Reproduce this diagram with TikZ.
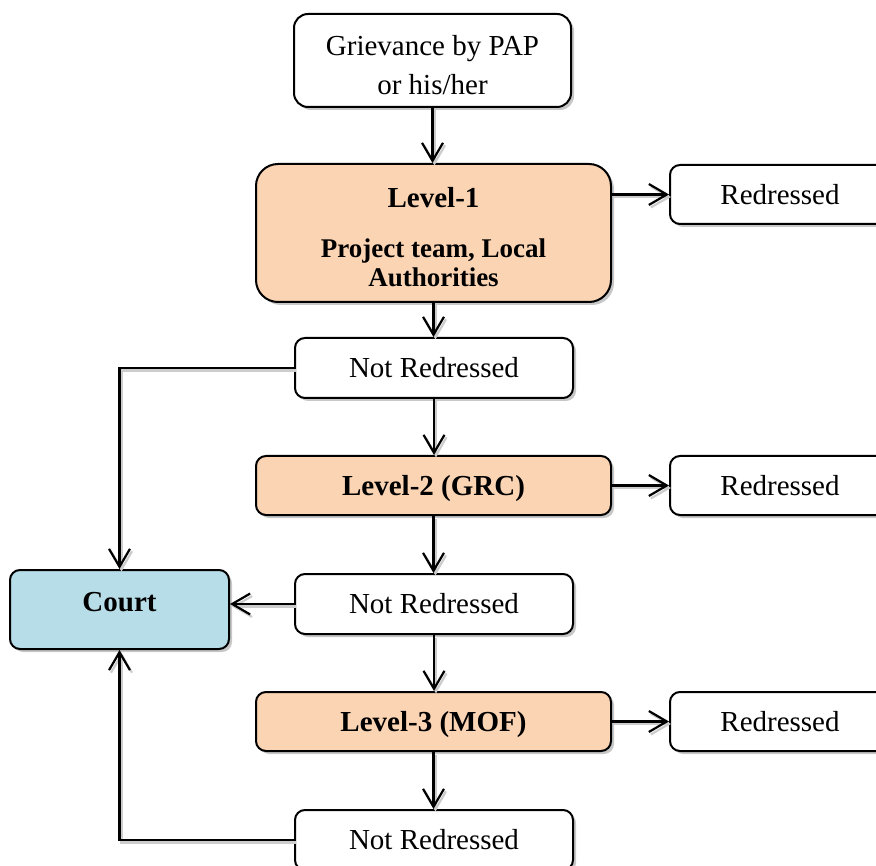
\documentclass[tikz,border=0pt]{standalone}
\usepackage{fontspec}
\setmainfont{Liberation Serif}
\usetikzlibrary{arrows.meta,shadows}
\definecolor{peach}{RGB}{251,212,180}
\definecolor{courtblue}{RGB}{183,221,232}
\tikzset{
  box/.style={draw=black, line width=2pt, rounded corners=10pt, fill=white, inner sep=0pt,
    align=center, font=\fontsize{29}{39}\selectfont,
    drop shadow={shadow xshift=3pt, shadow yshift=-3pt, opacity=1, fill=black!22}},
  lvl/.style={box, fill=peach, font=\fontsize{29}{39}\selectfont\bfseries},
  conn/.style={line width=2.4pt, -{Straight Barb[length=18pt,width=21pt,line width=2.2pt]},
    preaction={draw=black!20, line width=2.4pt, transform canvas={shift={(2pt,-2.5pt)}}}},
}
\begin{document}
\begin{tikzpicture}[x=1pt,y=-1pt]
\useasboundingbox (0,0) rectangle (876,866);
\clip (0,0) rectangle (876,866);
\node[box, rounded corners=14pt, minimum width=277pt, minimum height=93pt] (griev) at (432.5,60.5) {\rule{0pt}{29pt}Grievance by PAP\\or his/her};
\node[lvl, rounded corners=22pt, minimum width=355pt, minimum height=138pt] (l1) at (433.5,233)
  {\rule{0pt}{28pt}Level-1\\[11pt]\fontsize{27}{30}\selectfont Project team, Local\\[-10pt]\fontsize{27}{30}\selectfont Authorities};
\node[box, minimum width=220pt, minimum height=59pt] (r1) at (780,194.5) {Redressed};
\node[box, minimum width=278pt, minimum height=60pt] (nr1) at (434,368) {Not Redressed};
\node[lvl, text depth=0pt, minimum width=355pt, minimum height=59pt] (l2) at (433.5,485.5) {Level-2 (GRC)};
\node[box, minimum width=220pt, minimum height=59pt] (r2) at (780,485.5) {Redressed};
\node[box, fill=courtblue, font=\fontsize{29}{39}\selectfont\bfseries, text height=20pt, text depth=17pt, minimum width=219pt, minimum height=79pt] (court) at (119.5,609.5) {Court};
\node[box, minimum width=278pt, minimum height=60pt] (nr2) at (434,604) {Not Redressed};
\node[lvl, text depth=0pt, minimum width=355pt, minimum height=59pt] (l3) at (433.5,721.5) {Level-3 (MOF)};
\node[box, minimum width=220pt, minimum height=59pt] (r3) at (780,721.5) {Redressed};
\node[box, minimum width=278pt, minimum height=60pt] (nr3) at (434,840) {Not Redressed};

\draw[conn] (griev.south) -- (griev.south |- l1.north);
\draw[conn] (l1.east |- r1.west) -- (r1.west);
\draw[conn] (l1.south) -- (l1.south |- nr1.north);
\draw[conn] (nr1.south) -- (nr1.south |- l2.north);
\draw[conn] (l2.east) -- (r2.west);
\draw[conn] (l2.south) -- (l2.south |- nr2.north);
\draw[conn] (nr2.south) -- (nr2.south |- l3.north);
\draw[conn] (l3.east) -- (r3.west);
\draw[conn] (l3.south) -- (l3.south |- nr3.north);
\draw[conn] (nr1.west) -| (court.north);
\draw[conn] (nr2.west) -- (nr2.west -| court.east);
\draw[conn] (nr3.west) -| (court.south);
\end{tikzpicture}
\end{document}
